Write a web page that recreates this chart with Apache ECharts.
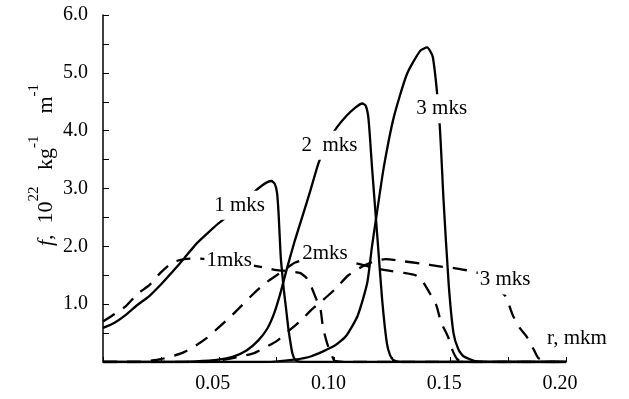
<!DOCTYPE html>
<html>
<head>
<meta charset="utf-8">
<script src="https://cdn.jsdelivr.net/npm/echarts@6/dist/echarts.min.js"></script>
<style>
  html, body { margin: 0; padding: 0; background: #fff; }
  #chart { width: 629px; height: 399px; }
</style>
</head>
<body>
<div id="chart"></div>
<script>
// tick labels
const xTickLabels = ['0.05', '0.10', '0.15', '0.20'];
const yTickLabels = ['1.0', '2.0', '3.0', '4.0', '5.0', '6.0'];

// solid curves [r, f]
const solid1 = [[0, 0.59], [0.005, 0.68], [0.01, 0.82], [0.015, 0.99], [0.02, 1.14], [0.025, 1.34], [0.03, 1.56], [0.035, 1.79], [0.04, 2.03], [0.045, 2.22], [0.05, 2.4], [0.055, 2.56], [0.06, 2.73], [0.065, 2.93], [0.069, 3.06], [0.071, 3.11], [0.0727, 3.13], [0.0742, 3.08], [0.0752, 2.92], [0.0758, 2.6], [0.0763, 2.2], [0.0768, 1.8], [0.0775, 1.5], [0.0781, 1.25], [0.079, 0.95], [0.08, 0.6], [0.0808, 0.38], [0.0818, 0.15], [0.083, 0.04], [0.085, 0.005], [0.09, 0], [0.2, 0]];
const solid2 = [[0, 0], [0.03, 0], [0.04, 0.01], [0.05, 0.04], [0.056, 0.09], [0.062, 0.2], [0.067, 0.37], [0.071, 0.58], [0.074, 0.85], [0.0767, 1.2], [0.079, 1.55], [0.0825, 2.05], [0.086, 2.5], [0.0897, 2.98], [0.0932, 3.45], [0.097, 3.8], [0.1011, 4.06], [0.105, 4.25], [0.109, 4.4], [0.112, 4.47], [0.1135, 4.43], [0.1147, 4.2], [0.1162, 3.37], [0.1184, 2.22], [0.1206, 1.07], [0.1226, 0.33], [0.124, 0.12], [0.1256, 0.03], [0.13, 0], [0.2, 0]];
const solid3 = [[0, 0], [0.07, 0], [0.0825, 0.04], [0.09, 0.1], [0.1, 0.28], [0.105, 0.45], [0.11, 0.8], [0.1141, 1.36], [0.1162, 2.0], [0.1184, 2.6], [0.1213, 3.37], [0.1256, 4.23], [0.1313, 4.98], [0.137, 5.38], [0.14, 5.44], [0.1425, 5.27], [0.1454, 4.12], [0.1471, 2.8], [0.1493, 1.36], [0.1514, 0.5], [0.1535, 0.22], [0.1557, 0.1], [0.1615, 0.01], [0.17, 0], [0.2, 0]];

// dashed curves [r, f]
const dashed1 = [[0, 0.7], [0.005, 0.83], [0.01, 0.97], [0.015, 1.18], [0.02, 1.33], [0.025, 1.55], [0.03, 1.72], [0.035, 1.78], [0.04, 1.79], [0.05, 1.76], [0.06, 1.7], [0.07, 1.63], [0.075, 1.59], [0.08, 1.57], [0.085, 1.54], [0.088, 1.45], [0.09, 1.3], [0.092, 1.1], [0.094, 0.9], [0.095, 0.6], [0.097, 0.3], [0.099, 0.1], [0.1, 0.02], [0.105, 0], [0.2, 0]];
const dashed2 = [[0, 0], [0.015, 0], [0.02, 0.02], [0.025, 0.05], [0.03, 0.1], [0.035, 0.17], [0.04, 0.28], [0.045, 0.42], [0.05, 0.6], [0.055, 0.78], [0.06, 0.98], [0.065, 1.18], [0.07, 1.36], [0.075, 1.5], [0.08, 1.64], [0.083, 1.72], [0.09, 1.8], [0.1, 1.8], [0.11, 1.7], [0.12, 1.6], [0.13, 1.54], [0.135, 1.5], [0.138, 1.4], [0.141, 1.2], [0.144, 0.98], [0.146, 0.69], [0.149, 0.44], [0.151, 0.2], [0.153, 0.05], [0.156, 0], [0.2, 0]];
const dashed3 = [[0, 0], [0.045, 0], [0.05, 0.02], [0.055, 0.06], [0.06, 0.1], [0.065, 0.15], [0.07, 0.25], [0.075, 0.36], [0.08, 0.53], [0.085, 0.7], [0.09, 0.9], [0.095, 1.07], [0.1, 1.25], [0.106, 1.5], [0.112, 1.65], [0.117, 1.74], [0.122, 1.78], [0.13, 1.74], [0.138, 1.7], [0.146, 1.65], [0.151, 1.63], [0.158, 1.58], [0.162, 1.54], [0.167, 1.4], [0.171, 1.25], [0.174, 1.13], [0.177, 0.81], [0.18, 0.59], [0.183, 0.44], [0.186, 0.22], [0.188, 0.07], [0.191, 0.01], [0.195, 0], [0.2, 0]];

// curve annotations [r, f, text]
const curveLabels = [
  [0.059, 2.71, '1 mks'],
  [0.0978, 3.75, '2  mks'],
  [0.1463, 4.38, '3 mks'],
  [0.0545, 1.76, '1mks'],
  [0.0959, 1.88, '2mks'],
  [0.1737, 1.42, '3 mks']
];

const FONT = 'Liberation Serif, Times New Roman, serif';

let myChart = echarts.init(document.getElementById('chart'));

function curve(data, dashed) {
  return {
    type: 'line',
    data: data,
    showSymbol: false,
    smooth: 0.2,
    silent: true,
    lineStyle: {
      color: '#000',
      width: 2.3,
      type: dashed ? [14, 10] : 'solid'
    },
    z: 2
  };
}

let option = {
  animation: false,
  backgroundColor: '#fff',
  grid: { left: 103, top: 15, right: 63, bottom: 37 },
  xAxis: {
    type: 'value',
    min: 0,
    max: 0.2,
    interval: 0.025,
    name: 'r, mkm',
    nameLocation: 'end',
    nameGap: -19,
    nameTextStyle: {
      fontFamily: FONT,
      fontSize: 21,
      color: '#000',
      align: 'left',
      verticalAlign: 'bottom',
      padding: [0, 0, 13, 0]
    },
    axisLine: { lineStyle: { color: '#000', width: 1.5 } },
    axisTick: { inside: true, length: 5, lineStyle: { color: '#000' } },
    splitLine: { show: false },
    axisLabel: {
      fontFamily: FONT,
      fontSize: 20,
      color: '#000',
      margin: 12,
      padding: [0, 12, 0, 0],
      formatter: (v) => {
        const s = v.toFixed(2);
        return xTickLabels.includes(s) ? s : '';
      }
    }
  },
  yAxis: {
    type: 'value',
    min: 0,
    max: 6,
    interval: 0.5,
    axisLine: { show: true, lineStyle: { color: '#000', width: 1.5 } },
    axisTick: { show: true, inside: true, length: 6, lineStyle: { color: '#000' } },
    splitLine: { show: false },
    axisLabel: {
      fontFamily: FONT,
      fontSize: 20,
      color: '#000',
      margin: 15,
      formatter: (v) => {
        const s = v.toFixed(1);
        return yTickLabels.includes(s) ? s : '';
      }
    }
  },
  graphic: [
    {
      type: 'text',
      x: 42,
      y: 165,
      rotation: Math.PI / 2,
      style: {
        text: '{it|f}{m|,  10}{sup|22}{m|   kg}{sup|-1}{m|    m}{sup|-1}',
        align: 'center',
        verticalAlign: 'middle',
        fill: '#000',
        rich: {
          m: { fontFamily: FONT, fontSize: 22, verticalAlign: 'bottom', fill: '#000' },
          it: { fontFamily: FONT, fontSize: 22, fontStyle: 'italic', verticalAlign: 'bottom', fill: '#000' },
          sup: { fontFamily: FONT, fontSize: 15, verticalAlign: 'top', padding: [0, 0, 15, 0], fill: '#000' }
        }
      }
    }
  ],
  series: [
    curve(solid1, false),
    curve(solid2, false),
    curve(solid3, false),
    curve(dashed1, true),
    curve(dashed2, true),
    curve(dashed3, true),
    {
      type: 'scatter',
      data: curveLabels,
      symbolSize: 0,
      silent: true,
      z: 10,
      itemStyle: { opacity: 1 },
      label: {
        show: true,
        position: 'inside',
        formatter: (p) => p.data[2],
        fontFamily: FONT,
        fontSize: 21,
        color: '#000',
        backgroundColor: '#fff',
        padding: [4, 2]
      }
    }
  ]
};

myChart.setOption(option);
window.addEventListener('resize', () => myChart.resize());
</script>
</body>
</html>
